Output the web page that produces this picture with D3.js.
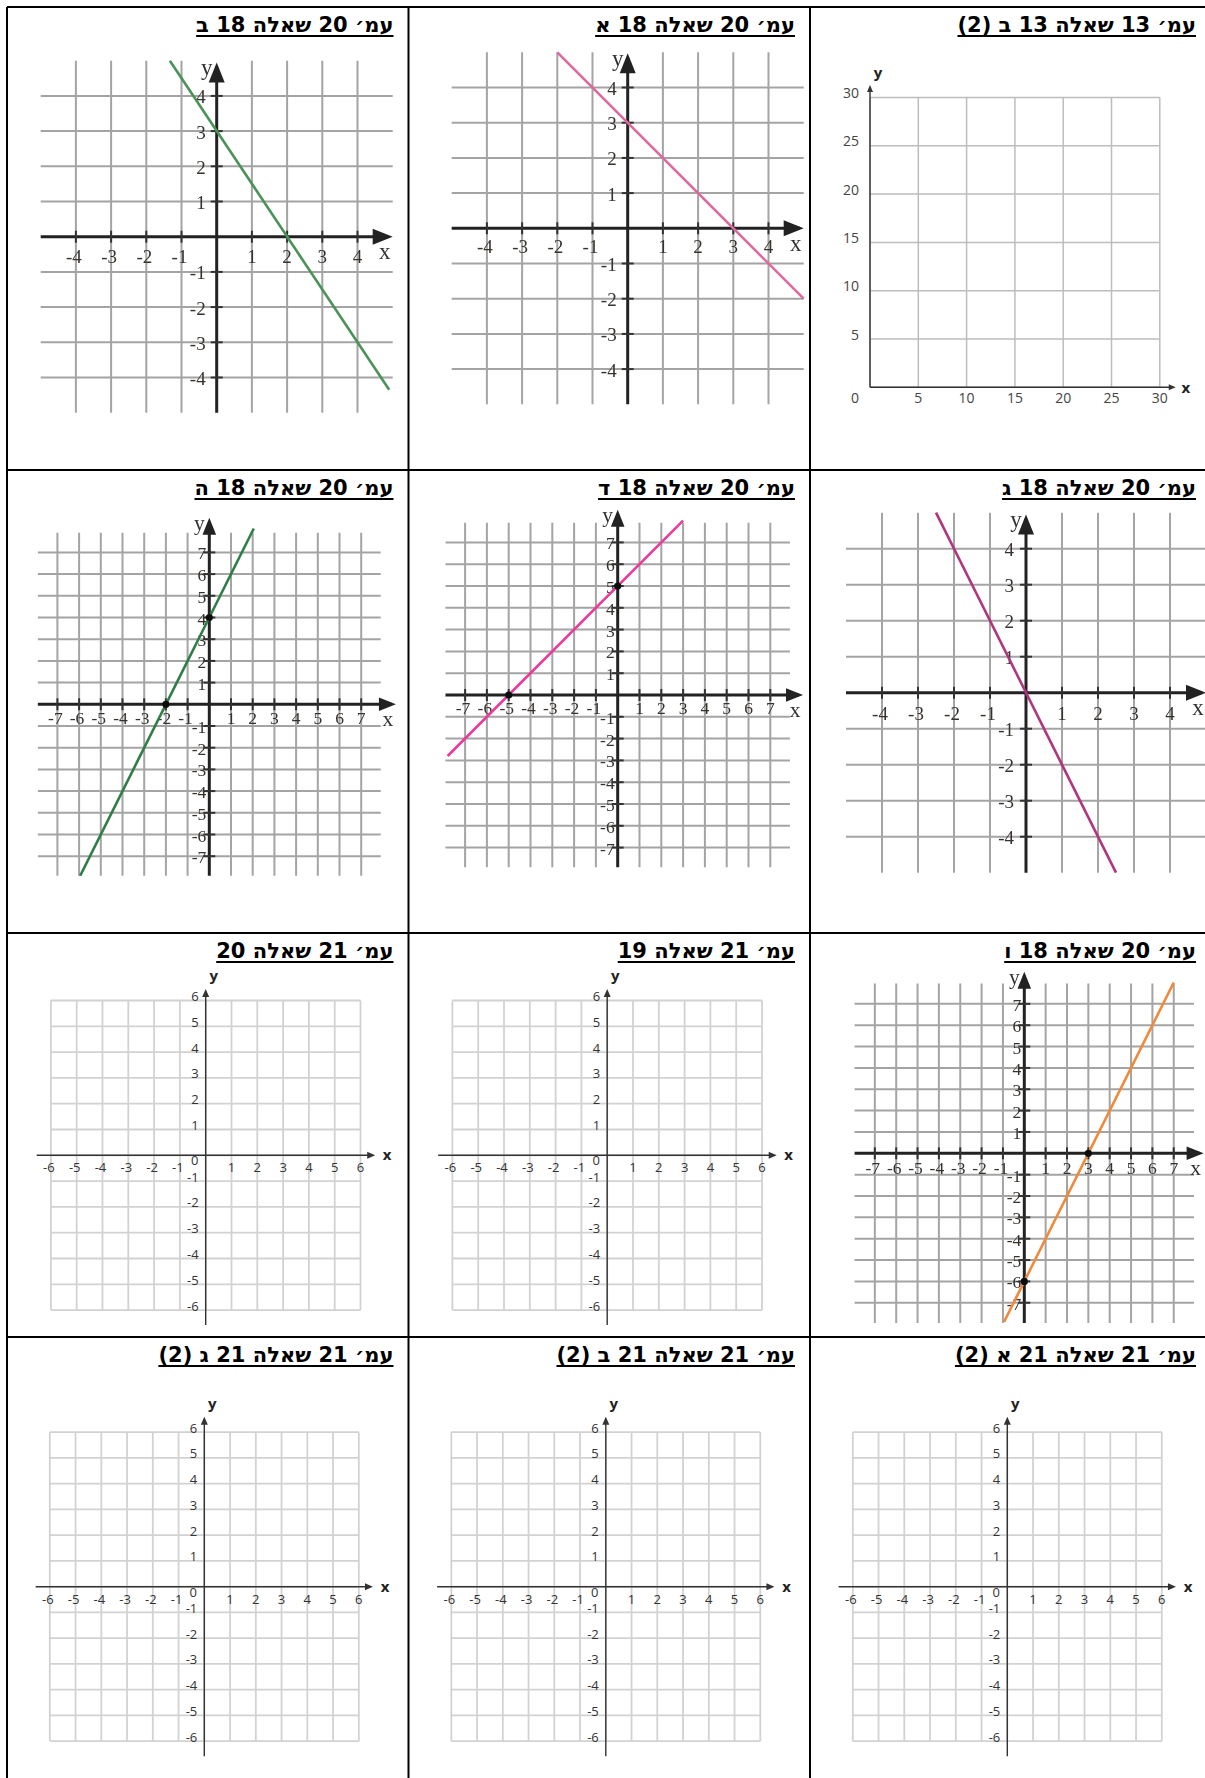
<!DOCTYPE html>
<html lang="he">
  <head>
    <meta charset="UTF-8" />
    <title>גרפים - שאלות</title>
    <script src="https://cdn.jsdelivr.net/npm/d3@7/dist/d3.min.js"></script>
    <style>
      body { margin: 0; background: #fff; }
      svg { display: block; }
    </style>
  </head>
  <body>
    <script>
      // titles, row by row, left to right
      const titles = [
        "עמ׳ 20 שאלה 18 ב", "עמ׳ 20 שאלה 18 א", "עמ׳ 13 שאלה 13 ב (2)",
        "עמ׳ 20 שאלה 18 ה", "עמ׳ 20 שאלה 18 ד", "עמ׳ 20 שאלה 18 ג",
        "עמ׳ 21 שאלה 20", "עמ׳ 21 שאלה 19", "עמ׳ 20 שאלה 18 ו",
        "עמ׳ 21 שאלה 21 ג (2)", "עמ׳ 21 שאלה 21 ב (2)", "עמ׳ 21 שאלה 21 א (2)"
      ];

      // tick values
      const ticks4 = [-4, -3, -2, -1, 1, 2, 3, 4];
      const ticks7 = [-7, -6, -5, -4, -3, -2, -1, 1, 2, 3, 4, 5, 6, 7];
      const ticks6 = [-6, -5, -4, -3, -2, -1, 1, 2, 3, 4, 5, 6];
      const grid6 = [-6, -5, -4, -3, -2, -1, 0, 1, 2, 3, 4, 5, 6];
      const grid30 = [0, 5, 10, 15, 20, 25, 30];
      const ticks30 = [5, 10, 15, 20, 25, 30];

      // drawn lines (end points) and marked points
      const lineA = [[-1.33, 5], [4.9, -4.35]];
      const lineB = [[-2, 5], [5, -2]];
      const lineD = [[-5.95, -7.9], [2.05, 8.1]];
      const lineE = [[-7.8, -2.8], [3, 8]];
      const lineF = [[-2.5, 5], [2.5, -5]];
      const lineH = [[-0.95, -7.9], [7, 8]];
      const dotsD = [[-2, 0], [0, 4]];
      const dotsE = [[-5, 0], [0, 5]];
      const dotsH = [[3, 0], [0, -6]];

      const W = 1205, H = 1778;
      const colX = [7, 408.5, 810, 1211];
      const rowY = [7, 470, 933, 1337, 1800];

      const svg = d3.select("body").append("svg").attr("width", W).attr("height", H);
      svg.append("defs").append("filter").attr("id", "soft")
        .append("feGaussianBlur").attr("stdDeviation", 0.5);

      const serif = "'Liberation Serif', 'Times New Roman', serif";
      const sans = "'Open Sans', 'Noto Sans', sans-serif";

      function scales(p) {
        const x = d3.scaleLinear().domain([0, 1]).range([p.ox, p.ox + p.u]);
        const y = d3.scaleLinear().domain([0, 1]).range([p.oy, p.oy - p.u]);
        return [x, y];
      }

      function arrow(g, tx, ty, dir, len, half, color) {
        // dir: "r" or "u"
        const pts = dir === "r"
          ? [[tx, ty], [tx - len, ty - half], [tx - len, ty + half]]
          : [[tx, ty], [tx - half, ty + len], [tx + half, ty + len]];
        g.append("path").attr("d", d3.line()(pts) + "Z").attr("fill", color);
      }

      // scanned textbook style graph
      function drawBook(p) {
        const g = svg.append("g").attr("filter", "url(#soft)");
        const [x, y] = scales(p);
        g.selectAll(".gv").data(p.ticks).join("line")
          .attr("x1", d => x(d)).attr("x2", d => x(d))
          .attr("y1", y(p.ext)).attr("y2", y(-p.ext))
          .attr("stroke", "#a4a4a4").attr("stroke-width", 2);
        g.selectAll(".gh").data(p.ticks).join("line")
          .attr("y1", d => y(d)).attr("y2", d => y(d))
          .attr("x1", x(-p.ext)).attr("x2", x(p.ext))
          .attr("stroke", "#a4a4a4").attr("stroke-width", 2);

        // axes
        g.append("line").attr("x1", x(-p.ext)).attr("x2", x(p.tipX) - 4)
          .attr("y1", y(0)).attr("y2", y(0)).attr("stroke", "#222").attr("stroke-width", 3);
        g.append("line").attr("y1", y(-p.ext)).attr("y2", y(p.tipY) + 4)
          .attr("x1", x(0)).attr("x2", x(0)).attr("stroke", "#222").attr("stroke-width", 3);
        arrow(g, x(p.tipX), y(0), "r", p.ah, p.ah * 0.4, "#222");
        arrow(g, x(0), y(p.tipY), "u", p.ah, p.ah * 0.4, "#222");

        // small ticks on the axes
        g.selectAll(".tx").data(p.ticks).join("line")
          .attr("x1", d => x(d)).attr("x2", d => x(d))
          .attr("y1", y(0) - 6).attr("y2", y(0) + 6)
          .attr("stroke", "#333").attr("stroke-width", 2);
        g.selectAll(".ty").data(p.ticks).join("line")
          .attr("y1", d => y(d)).attr("y2", d => y(d))
          .attr("x1", x(0) - 6).attr("x2", x(0) + 6)
          .attr("stroke", "#333").attr("stroke-width", 2);

        // tick labels
        g.selectAll(".lx").data(p.ticks).join("text")
          .attr("x", d => x(d) - (d < 0 ? 2 : 0)).attr("y", y(0) + p.xOff)
          .attr("text-anchor", "middle").attr("dominant-baseline", "central")
          .attr("font-family", serif).attr("font-size", p.fs).attr("fill", "#38332e")
          .text(d => d);
        g.selectAll(".ly").data(p.ticks).join("text")
          .attr("x", x(0) - p.yOff).attr("y", d => y(d) + 1)
          .attr("text-anchor", "end").attr("dominant-baseline", "central")
          .attr("font-family", serif).attr("font-size", p.fs).attr("fill", "#38332e")
          .text(d => d);
        g.append("text").attr("x", x(p.tipX) - 8).attr("y", y(0) + 15)
          .attr("text-anchor", "middle").attr("dominant-baseline", "central")
          .attr("font-family", serif).attr("font-size", p.fs + 4).attr("fill", "#333").text("x");
        g.append("text").attr("x", x(0) - 10).attr("y", y(p.tipY) + 5)
          .attr("text-anchor", "middle").attr("dominant-baseline", "central")
          .attr("font-family", serif).attr("font-size", p.fs + 4).attr("fill", "#333").text("y");

        // the graph line
        g.append("path")
          .attr("d", d3.line().x(d => x(d[0])).y(d => y(d[1]))(p.line))
          .attr("fill", "none").attr("stroke", p.color).attr("stroke-width", 2.6);
        g.selectAll(".dot").data(p.dots || []).join("circle")
          .attr("cx", d => x(d[0])).attr("cy", d => y(d[1])).attr("r", 3.6)
          .attr("fill", "#111");
      }

      // clean empty grid, -6..6
      function drawClean(p) {
        const g = svg.append("g");
        const [x, y] = scales(p);
        g.selectAll(".gv").data(grid6).join("line")
          .attr("x1", d => x(d)).attr("x2", d => x(d))
          .attr("y1", y(6)).attr("y2", y(-6))
          .attr("stroke", "#d2d2d2").attr("stroke-width", 1.8);
        g.selectAll(".gh").data(grid6).join("line")
          .attr("y1", d => y(d)).attr("y2", d => y(d))
          .attr("x1", x(-6)).attr("x2", x(6))
          .attr("stroke", "#d2d2d2").attr("stroke-width", 1.8);
        g.append("line").attr("x1", x(-6.55)).attr("x2", x(p.tipX) - 4)
          .attr("y1", y(0)).attr("y2", y(0)).attr("stroke", "#333").attr("stroke-width", 1.4);
        g.append("line").attr("y1", y(-6.58)).attr("y2", y(p.tipY) + 4)
          .attr("x1", x(0)).attr("x2", x(0)).attr("stroke", "#333").attr("stroke-width", 1.4);
        arrow(g, x(p.tipX), y(0), "r", 8, 3.5, "#333");
        arrow(g, x(0), y(p.tipY), "u", 8, 3.5, "#333");

        g.selectAll(".lx").data(ticks6).join("text")
          .attr("x", d => x(d) - (d < 0 ? 2 : 0)).attr("y", y(0) + 12)
          .attr("text-anchor", "middle").attr("dominant-baseline", "central")
          .attr("font-family", sans).attr("font-size", 13).attr("fill", "#333")
          .text(d => d);
        g.selectAll(".ly").data(ticks6).join("text")
          .attr("x", x(0) - 7).attr("y", d => y(d) - 4.5)
          .attr("text-anchor", "end").attr("dominant-baseline", "central")
          .attr("font-family", sans).attr("font-size", 13).attr("fill", "#333")
          .text(d => d);
        g.append("text").attr("x", x(0) - 11).attr("y", y(0) + 5)
          .attr("text-anchor", "middle").attr("dominant-baseline", "central")
          .attr("font-family", sans).attr("font-size", 13).attr("fill", "#333").text("0");
        g.append("text").attr("x", x(p.tipX) + 12).attr("y", y(0) - 1)
          .attr("text-anchor", "middle").attr("dominant-baseline", "central")
          .attr("font-family", sans).attr("font-size", 15).attr("font-weight", "bold")
          .attr("fill", "#222").text("x");
        g.append("text").attr("x", x(0) + 8).attr("y", y(p.tipY) - 14)
          .attr("text-anchor", "middle").attr("dominant-baseline", "central")
          .attr("font-family", sans).attr("font-size", 15).attr("font-weight", "bold")
          .attr("fill", "#222").text("y");
      }

      // first quadrant 0..30 grid
      function drawQuad(p) {
        const g = svg.append("g");
        const [x, y] = scales(p);
        g.selectAll(".gv").data(grid30).join("line")
          .attr("x1", d => x(d)).attr("x2", d => x(d))
          .attr("y1", y(0)).attr("y2", y(30))
          .attr("stroke", "#bdbdbd").attr("stroke-width", 1.5);
        g.selectAll(".gh").data(grid30).join("line")
          .attr("y1", d => y(d)).attr("y2", d => y(d))
          .attr("x1", x(0)).attr("x2", x(30))
          .attr("stroke", "#bdbdbd").attr("stroke-width", 1.5);
        g.append("line").attr("x1", x(0)).attr("x2", x(p.tipX) - 4)
          .attr("y1", y(0)).attr("y2", y(0)).attr("stroke", "#333").attr("stroke-width", 1.4);
        g.append("line").attr("y1", y(0)).attr("y2", y(p.tipY) + 4)
          .attr("x1", x(0)).attr("x2", x(0)).attr("stroke", "#333").attr("stroke-width", 1.4);
        arrow(g, x(p.tipX), y(0), "r", 7, 3, "#333");
        arrow(g, x(0), y(p.tipY), "u", 7, 3, "#333");

        g.selectAll(".lx").data(ticks30).join("text")
          .attr("x", d => x(d)).attr("y", y(0) + 10)
          .attr("text-anchor", "middle").attr("dominant-baseline", "central")
          .attr("font-family", sans).attr("font-size", 14).attr("fill", "#444")
          .text(d => d);
        g.selectAll(".ly").data(ticks30).join("text")
          .attr("x", x(0) - 11).attr("y", d => y(d) - 5)
          .attr("text-anchor", "end").attr("dominant-baseline", "central")
          .attr("font-family", sans).attr("font-size", 14).attr("fill", "#444")
          .text(d => d);
        g.append("text").attr("x", x(0) - 11).attr("y", y(0) + 10)
          .attr("text-anchor", "end").attr("dominant-baseline", "central")
          .attr("font-family", sans).attr("font-size", 14).attr("fill", "#444").text("0");
        g.append("text").attr("x", x(p.tipX) + 10).attr("y", y(0))
          .attr("text-anchor", "middle").attr("dominant-baseline", "central")
          .attr("font-family", sans).attr("font-size", 15).attr("font-weight", "bold")
          .attr("fill", "#222").text("x");
        g.append("text").attr("x", x(0) + 8).attr("y", y(p.tipY) - 13)
          .attr("text-anchor", "middle").attr("dominant-baseline", "central")
          .attr("font-family", sans).attr("font-size", 15).attr("font-weight", "bold")
          .attr("fill", "#222").text("y");
      }

      // panels
      drawBook({ ox: 216.7, oy: 236.7, u: 35.2, ticks: ticks4, ext: 5, tipX: 5, tipY: 4.95, ah: 20, fs: 19, xOff: 20, yOff: 11, line: lineA, color: "#4b925a" });
      drawBook({ ox: 627.7, oy: 228.3, u: 35.2, ticks: ticks4, ext: 5, tipX: 5, tipY: 4.97, ah: 20, fs: 19, xOff: 18, yOff: 11, line: lineB, color: "#dc6aa1" });
      drawQuad({ ox: 870, oy: 387.3, u: 9.66, tipX: 31.65, tipY: 31.3 });
      drawBook({ ox: 209.3, oy: 704.3, u: 21.7, ticks: ticks7, ext: 7.9, tipX: 8.6, tipY: 8.6, ah: 17, fs: 17.5, xOff: 14, yOff: 3, line: lineD, color: "#2f7d46", dots: dotsD });
      drawBook({ ox: 617.7, oy: 695, u: 21.8, ticks: ticks7, ext: 7.9, tipX: 8.5, tipY: 8.5, ah: 17, fs: 17.5, xOff: 13, yOff: 3, line: lineE, color: "#ea3b9b", dots: dotsE });
      drawBook({ ox: 1026, oy: 692.7, u: 36, ticks: ticks4, ext: 5, tipX: 5, tipY: 4.95, ah: 20, fs: 19, xOff: 21, yOff: 12, line: lineF, color: "#b0367f" });
      drawClean({ ox: 205.7, oy: 1155.3, u: 25.8, tipX: 6.57, tipY: 6.45 });
      drawClean({ ox: 607.2, oy: 1155.3, u: 25.8, tipX: 6.57, tipY: 6.45 });
      drawBook({ ox: 1024.3, oy: 1153.3, u: 21.35, ticks: ticks7, ext: 7.95, tipX: 8.4, tipY: 8.5, ah: 17, fs: 17.5, xOff: 15, yOff: 3, line: lineH, color: "#f0893b", dots: dotsH });
      drawClean({ ox: 204.3, oy: 1586.7, u: 25.75, tipX: 6.55, tipY: 6.6 });
      drawClean({ ox: 605.8, oy: 1586.7, u: 25.75, tipX: 6.55, tipY: 6.6 });
      drawClean({ ox: 1007.3, oy: 1586.7, u: 25.75, tipX: 6.55, tipY: 6.6 });

      // table borders
      const borders = svg.append("g").attr("stroke", "#000").attr("stroke-width", 2);
      colX.forEach(cx => borders.append("line").attr("x1", cx).attr("x2", cx).attr("y1", rowY[0]).attr("y2", H + 10));
      rowY.slice(0, 4).forEach(ry => borders.append("line").attr("y1", ry).attr("y2", ry).attr("x1", colX[0]).attr("x2", W + 10));

      // titles, right aligned and underlined
      titles.forEach((t, i) => {
        const c = i % 3, r = Math.floor(i / 3);
        const right = colX[c + 1] - 15;
        const base = rowY[r] + 25;
        const txt = svg.append("text")
          .attr("x", right).attr("y", base)
          .attr("direction", "rtl").attr("text-anchor", "middle")
          .attr("font-family", "'DejaVu Sans', 'Liberation Sans', sans-serif")
          .attr("font-weight", "bold").attr("font-size", 21).attr("fill", "#000")
          .text(t);
        const bb = txt.node().getBBox();
        txt.attr("x", right - (bb.x + bb.width - right));
        const bb2 = txt.node().getBBox();
        svg.append("line").attr("x1", bb2.x).attr("x2", bb2.x + bb2.width)
          .attr("y1", base + 4).attr("y2", base + 4)
          .attr("stroke", "#000").attr("stroke-width", 2);
      });
    </script>
  </body>
</html>
